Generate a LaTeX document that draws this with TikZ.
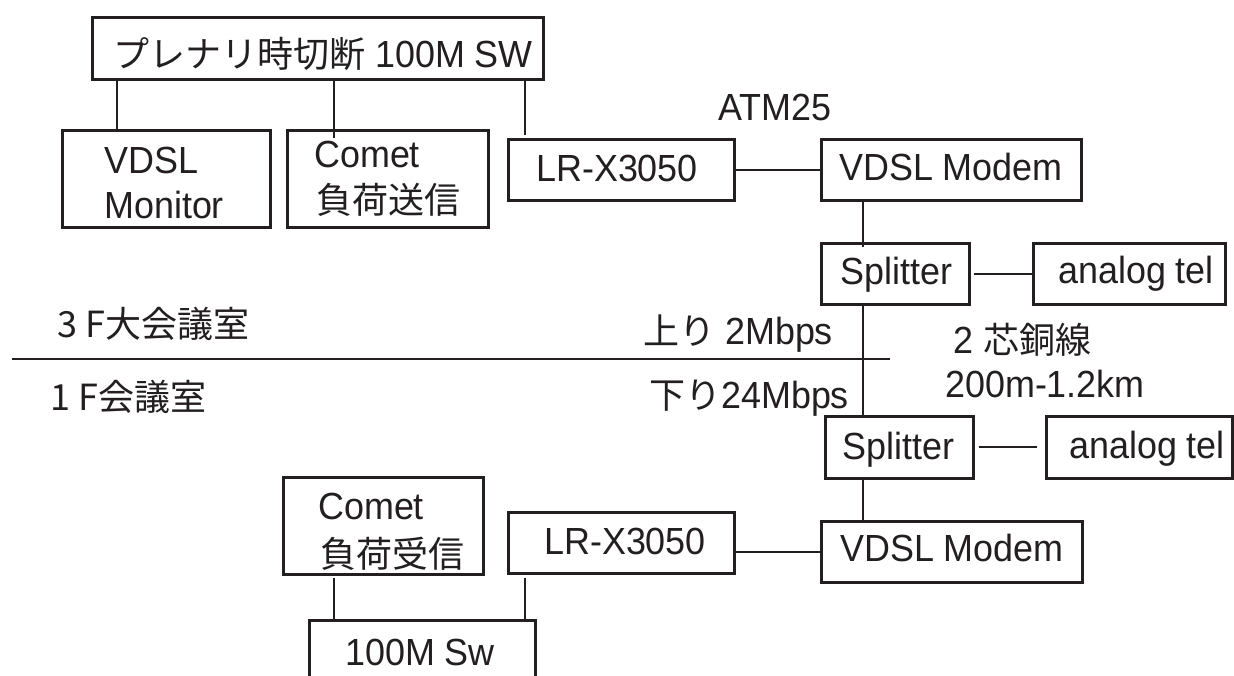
\documentclass[tikz,border=0pt]{standalone}
\usepackage{fontspec}
\setmainfont{Liberation Sans}[FakeStretch=0.95]
\newfontfamily\jp{Noto Sans CJK JP}
\definecolor{ink}{RGB}{35,31,32}
\begin{document}
\begin{tikzpicture}[x=1pt,y=-1pt,
  box/.style={draw=ink, line width=2.6pt, inner sep=0pt, anchor=north west},
  ln/.style={draw=ink, line width=2.2pt},
  lbl/.style={inner sep=0pt, anchor=base west, text=ink, font=\fontsize{37.8}{45}\selectfont}]
\clip (0,0) rectangle (1234,675);
\fill[white] (0,0) rectangle (1234,675);
% boxes
\node[box, minimum width=451pt, minimum height=62pt] (top) at (91,16) {};
\node[box, minimum width=208pt, minimum height=97pt] (mon) at (61,129) {};
\node[box, minimum width=201pt, minimum height=97pt] (cs) at (286,129) {};
\node[box, minimum width=226pt, minimum height=61pt] (lr1) at (507,138) {};
\node[box, minimum width=260pt, minimum height=61pt] (vm1) at (820,138) {};
\node[box, minimum width=148pt, minimum height=61pt] (sp1) at (820,242) {};
\node[box, minimum width=192pt, minimum height=61pt] (at1) at (1032,242) {};
\node[box, minimum width=148pt, minimum height=62pt] (sp2) at (824,415) {};
\node[box, minimum width=186pt, minimum height=62pt] (at2) at (1045,415) {};
\node[box, minimum width=261pt, minimum height=61pt] (vm2) at (820,520) {};
\node[box, minimum width=226pt, minimum height=61pt] (lr2) at (507,511) {};
\node[box, minimum width=200pt, minimum height=97pt] (cr) at (282,476) {};
\node[box, minimum width=226pt, minimum height=90pt] (sw) at (308,619) {};
% texts
\node[lbl] (ttop) at (113,67) {{\jp\fontsize{36}{43}\selectfont プレナリ時切断} 100M SW};
\node[lbl] (tmon1) at (104,173) {VDSL};
\node[lbl] (tmon2) at (104,218) {Monitor};
\node[lbl] (tcs1) at (314,167) {Comet};
\node[lbl] (tcs2) at (316,213) {\jp\fontsize{36}{43}\selectfont 負荷送信};
\node[lbl] (tlr1) at (536,181) {LR-X3050};
\node[lbl] (tatm) at (718,120) {ATM25};
\node[lbl] (tvm1) at (839,180) {VDSL Modem};
\node[lbl] (tsp1) at (840,284) {Splitter};
\node[lbl] (tat1) at (1058,283) {analog tel};
\node[lbl] (t3f) at (57,337) {\jp\fontsize{36}{43}\selectfont 3 F大会議室};
\node[lbl] (t1f) at (50,410) {\jp\fontsize{36}{43}\selectfont 1 F会議室};
\node[lbl] (tup) at (643,344) {{\jp\fontsize{36}{43}\selectfont 上り} 2Mbps};
\node[lbl] (tdn) at (649,408) {{\jp\fontsize{36}{43}\selectfont 下り}24Mbps};
\node[lbl] (tcore) at (953,353) {2 {\jp\fontsize{36}{43}\selectfont 芯銅線}};
\node[lbl] (tlen) at (945,397) {200m-1.2km};
\node[lbl] (tsp2) at (842,459) {Splitter};
\node[lbl] (tat2) at (1069,458) {analog tel};
\node[lbl] (tvm2) at (840,561) {VDSL Modem};
\node[lbl] (tlr2) at (544,554) {LR-X3050};
\node[lbl] (tcr1) at (318,519) {Comet};
\node[lbl] (tcr2) at (320,567) {\jp\fontsize{36}{43}\selectfont 負荷受信};
\node[lbl] (tsw) at (345,665) {100M Sw};
% connectors
\coordinate (c1) at ([xshift=26pt]top.south west);
\draw[ln] (c1) -- (c1 |- mon.north);
\coordinate (c2) at ([xshift=243pt]top.south west);
\draw[ln] (c2) -- ++(0,57);
\coordinate (c3) at ([xshift=18pt]lr1.north west);
\draw[ln] (c3 |- top.south) -- ([yshift=3pt]c3);
\draw[ln] (lr1.east) -- (vm1.west);
\coordinate (c4) at ([xshift=43pt]vm1.south west);
\draw[ln] (c4) -- ([yshift=-5pt]c4 |- sp1.north);
\draw[ln] ([xshift=3pt]sp1.east) -- (at1.west);
\draw[ln] (sp1.south -| c4) -- (sp2.north -| c4);
\coordinate (fl) at (12,359);
\coordinate (fr) at (890,359);
\draw[ln] (fl) -- (fr);
\draw[ln] ([xshift=4pt]sp2.east) -- ([xshift=-8pt]at2.west);
\draw[ln] (sp2.south -| c4) -- (vm2.north -| c4);
\draw[ln] (vm2.west -| lr2.east) -- (vm2.west);
\coordinate (c5) at ([xshift=52pt]cr.south west);
\draw[ln] ([yshift=-2pt]c5) -- (c5 |- sw.north);
\coordinate (c6) at ([xshift=18pt]lr2.south west);
\draw[ln] ([yshift=-3pt]c6) -- (c6 |- sw.north);
\end{tikzpicture}
\end{document}
